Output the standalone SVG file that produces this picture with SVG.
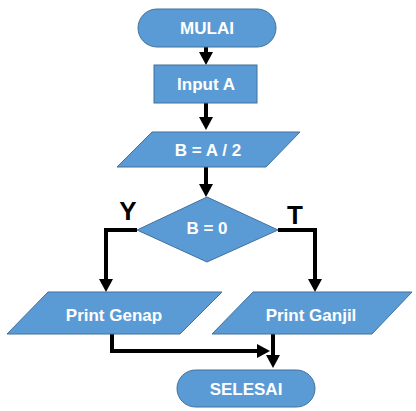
<svg xmlns="http://www.w3.org/2000/svg" width="416" height="411" viewBox="0 0 416 411">
<defs>
<style>
.n{fill:#5B9BD5;stroke:#41719C;stroke-width:1}
.t{fill:#fff;font-family:"Liberation Sans",Arial,sans-serif;font-weight:bold;font-size:17px;text-anchor:middle}
.l{fill:#000;font-family:"Liberation Sans",Arial,sans-serif;font-weight:bold;font-size:26px;text-anchor:middle}
.c{fill:none;stroke:#000;stroke-width:4;marker-end:url(#a)}
</style>
<marker id="a" markerUnits="userSpaceOnUse" markerWidth="16" markerHeight="16" refX="0" refY="8" orient="auto" viewBox="0 0 16 16">
<path d="M0,1 L13,8 L0,15 z" fill="#000"/>
</marker>
</defs>
<rect width="416" height="411" fill="#fff"/>
<g id="connectors">
<path class="c" d="M206,47 V52"/>
<path class="c" d="M206,103 V117"/>
<path class="c" d="M206,167 V184"/>
<path class="c" d="M137,230 H106 V279"/>
<path class="c" d="M278,230 H315 V279"/>
<path class="c" d="M112,334 V351 H257"/>
<path class="c" d="M273,334 V355"/>
</g>
<g id="mulai"><rect class="n" x="138" y="9" width="138" height="38" rx="19"/><text class="t" x="207" y="34">MULAI</text></g>
<g id="input"><rect class="n" x="154" y="65" width="103" height="38"/><text class="t" x="206" y="90">Input A</text></g>
<g id="hitung"><polygon class="n" points="152,132 300,132 266,167 117,167"/><text class="t" x="208" y="156">B = A / 2</text></g>
<g id="cek"><polygon class="n" points="207,197 278,230 207,262 137,230"/><text class="t" x="207" y="234">B = 0</text></g>
<g id="labelY"><text class="l" x="128" y="220">Y</text></g>
<g id="labelT"><text class="l" x="295" y="224">T</text></g>
<g id="genap"><polygon class="n" points="48,292 222,292 180,334 7,334"/><text class="t" x="114" y="321">Print Genap</text></g>
<g id="ganjil"><polygon class="n" points="253,292 412,292 372,334 212,334"/><text class="t" x="311" y="321">Print Ganjil</text></g>
<g id="selesai"><rect class="n" x="177" y="370" width="138" height="37" rx="18.5"/><text class="t" x="246" y="395">SELESAI</text></g>
</svg>
